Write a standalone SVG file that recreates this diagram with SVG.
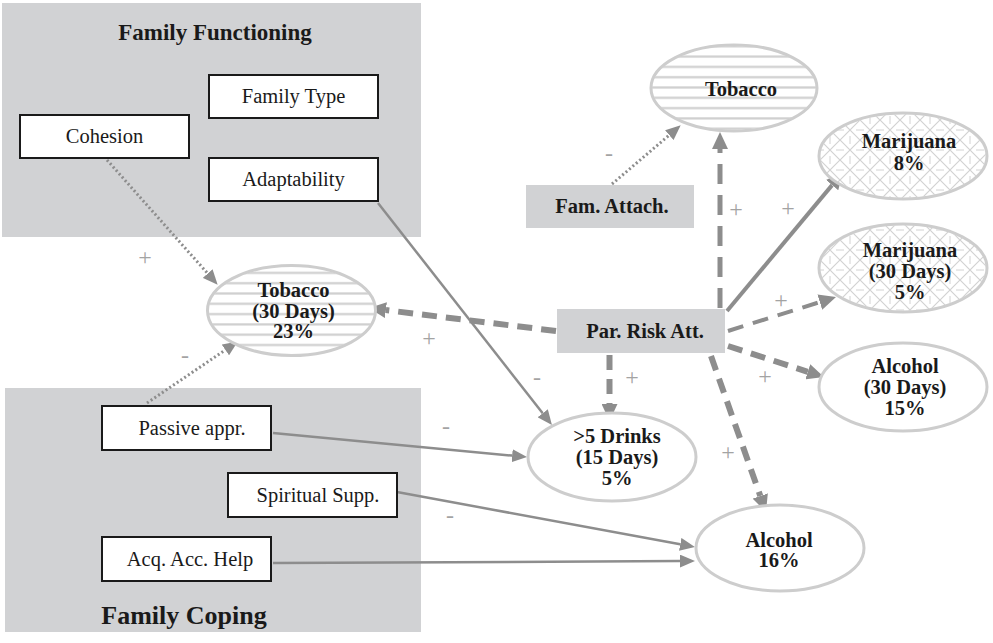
<svg xmlns="http://www.w3.org/2000/svg" width="993" height="643" viewBox="0 0 993 643">
  <style>
    .panel { fill: #d1d2d4; }
    .box { fill: #ffffff; stroke: #1a1a1a; stroke-width: 2; }
    .boxtxt { font-family: "Liberation Serif", "Times New Roman", serif; font-size: 20.5px; fill: #1a1a1a; text-anchor: middle; }
    .title { font-family: "Liberation Serif", "Times New Roman", serif; font-weight: bold; fill: #1a1a1a; text-anchor: middle; }
    .grey { fill: #d1d2d4; }
    .ell { stroke: #cdcdcd; stroke-width: 3; }
    .ntxt { font-family: "Liberation Serif", "Times New Roman", serif; font-size: 20.5px; font-weight: bold; fill: #1a1a1a; text-anchor: middle; }
    .edge { fill: none; stroke: #8d8d8d; }
    .dot { stroke-width: 3; stroke-dasharray: 2 2.5; }
    .solid { stroke-width: 2.5; }
    .dash { stroke-width: 5; stroke-dasharray: 20 11; }
    .dash6 { stroke-width: 6; stroke-dasharray: 15 9; }
    .sign { font-family: "Liberation Serif", "Times New Roman", serif; font-size: 24px; fill: #a3a3a3; text-anchor: middle; dominant-baseline: central; }
  </style>
  <defs>
    <pattern id="stripes" patternUnits="userSpaceOnUse" width="20" height="10.3">
      <rect x="0" y="4" width="20" height="2.2" fill="#cfcfcf"/>
    </pattern>
    <pattern id="mesh" patternUnits="userSpaceOnUse" width="20" height="20">
      <path d="M0,0 L20,20 M20,0 L0,20" stroke="#d2d2d2" stroke-width="1.2" fill="none"/>
      <path d="M10,0 L10,4 M10,16 L10,20 M0,10 L4,10 M16,10 L20,10" stroke="#d2d2d2" stroke-width="1" fill="none"/>
    </pattern>
    <marker id="big" markerUnits="userSpaceOnUse" markerWidth="17" markerHeight="16" viewBox="0 0 17 16" refX="0" refY="8" orient="auto">
      <path d="M0,0 L17,8 L0,16 z" fill="#8d8d8d"/>
    </marker>
    <marker id="small" markerUnits="userSpaceOnUse" markerWidth="15" markerHeight="13" viewBox="0 0 15 13" refX="0" refY="6.5" orient="auto">
      <path d="M0,0 L15,6.5 L0,13 z" fill="#8d8d8d"/>
    </marker>
  </defs>

  <!-- background panels -->
  <g id="family-functioning">
    <rect class="panel" x="2" y="3" width="419" height="234"/>
    <text class="title" x="215" y="40" font-size="23">Family Functioning</text>
  </g>
  <g id="family-coping">
    <rect class="panel" x="5" y="388" width="416" height="244"/>
    <text class="title" x="184" y="624" font-size="26">Family Coping</text>
  </g>

  <!-- connectors -->
  <g id="connectors">
    <line class="edge dot" x1="107" y1="160" x2="207.7" y2="273.5" marker-end="url(#small)"/>
    <line class="edge dot" x1="147" y1="403" x2="225.4" y2="349.9" marker-end="url(#small)"/>
    <line class="edge dot" x1="612" y1="184" x2="669.3" y2="135.1" marker-end="url(#small)"/>
    <line class="edge dash" x1="720" y1="308" x2="720" y2="149" marker-end="url(#big)"/>
    <line class="edge" stroke-width="4" x1="727" y1="311" x2="832.1" y2="185.1" marker-end="url(#big)"/>
    <line class="edge" stroke-width="4" stroke-dasharray="16 10" x1="728" y1="331" x2="819.8" y2="302.1" marker-end="url(#big)"/>
    <line class="edge dash6" x1="728" y1="346" x2="807.8" y2="371.8" marker-end="url(#big)"/>
    <line class="edge dash6" x1="711" y1="356" x2="760.3" y2="496" marker-end="url(#big)"/>
    <line class="edge dash6" x1="609.5" y1="355" x2="609.5" y2="404" marker-end="url(#big)"/>
    <line class="edge dash6" x1="556" y1="331" x2="385.9" y2="310.1" marker-end="url(#big)"/>
    <line class="edge solid" x1="378" y1="203" x2="542.7" y2="413.2" marker-end="url(#small)"/>
    <line class="edge solid" x1="273" y1="433" x2="512.1" y2="455.6" marker-end="url(#small)"/>
    <line class="edge solid" x1="397" y1="492" x2="680.2" y2="544.3" marker-end="url(#small)"/>
    <line class="edge solid" x1="273" y1="563" x2="680" y2="561.1" marker-end="url(#small)"/>

    <text class="sign" x="145" y="257">+</text>
    <text class="sign" x="185" y="355">-</text>
    <text class="sign" x="609" y="153">-</text>
    <text class="sign" x="736" y="209">+</text>
    <text class="sign" x="788" y="208">+</text>
    <text class="sign" x="781" y="300">+</text>
    <text class="sign" x="765" y="376">+</text>
    <text class="sign" x="728" y="452">+</text>
    <text class="sign" x="632" y="377">+</text>
    <text class="sign" x="429" y="338">+</text>
    <text class="sign" x="537" y="377">-</text>
    <text class="sign" x="446" y="426">-</text>
    <text class="sign" x="450" y="515">-</text>
  </g>

  <!-- family functioning measures -->
  <g id="family-type">
    <rect class="box" x="209" y="75" width="169" height="43"/>
    <text class="boxtxt" x="293.5" y="103">Family Type</text>
  </g>
  <g id="cohesion">
    <rect class="box" x="20" y="115" width="169" height="43"/>
    <text class="boxtxt" x="104.5" y="143">Cohesion</text>
  </g>
  <g id="adaptability">
    <rect class="box" x="209" y="158" width="169" height="43"/>
    <text class="boxtxt" x="293.5" y="186">Adaptability</text>
  </g>

  <!-- family coping measures -->
  <g id="passive-appr">
    <rect class="box" x="102" y="406" width="169" height="44"/>
    <text class="boxtxt" x="192" y="435">Passive appr.</text>
  </g>
  <g id="spiritual-supp">
    <rect class="box" x="228" y="473" width="169" height="44"/>
    <text class="boxtxt" x="318" y="502">Spiritual Supp.</text>
  </g>
  <g id="acq-acc-help">
    <rect class="box" x="102" y="537" width="169" height="44"/>
    <text class="boxtxt" x="190" y="566">Acq. Acc. Help</text>
  </g>

  <!-- predictors -->
  <g id="fam-attach">
    <rect class="grey" x="526" y="185" width="168" height="43"/>
    <text class="ntxt" x="612" y="213">Fam. Attach.</text>
  </g>
  <g id="par-risk-att">
    <rect class="grey" x="557" y="309" width="168" height="44"/>
    <text class="ntxt" x="645" y="338">Par. Risk Att.</text>
  </g>

  <!-- outcomes -->
  <g id="tobacco">
    <ellipse class="ell" cx="734" cy="88" rx="83" ry="43" fill="#fff"/>
    <ellipse cx="734" cy="88" rx="82" ry="42" fill="url(#stripes)"/>
    <text class="ntxt" x="741" y="96">Tobacco</text>
  </g>
  <g id="marijuana">
    <ellipse class="ell" cx="903" cy="156" rx="84" ry="43" fill="#fff"/>
    <ellipse cx="903" cy="156" rx="83" ry="42" fill="url(#mesh)"/>
    <text class="ntxt" x="909" y="148">Marijuana</text>
    <text class="ntxt" x="909" y="170">8%</text>
  </g>
  <g id="marijuana-30">
    <ellipse class="ell" cx="903" cy="268" rx="84" ry="44" fill="#fff"/>
    <ellipse cx="903" cy="268" rx="83" ry="43" fill="url(#mesh)"/>
    <text class="ntxt" x="910" y="257">Marijuana</text>
    <text class="ntxt" x="910" y="278">(30 Days)</text>
    <text class="ntxt" x="910" y="299">5%</text>
  </g>
  <g id="tobacco-30">
    <ellipse class="ell" cx="291.5" cy="310.5" rx="84" ry="45" fill="#fff"/>
    <ellipse cx="291.5" cy="310.5" rx="83" ry="44" fill="url(#stripes)"/>
    <text class="ntxt" x="293.5" y="297">Tobacco</text>
    <text class="ntxt" x="293.5" y="318">(30 Days)</text>
    <text class="ntxt" x="293.5" y="338">23%</text>
  </g>
  <g id="drinks-15">
    <ellipse class="ell" cx="612" cy="457" rx="84" ry="44" fill="#fff"/>
    <text class="ntxt" x="617" y="443">&gt;5 Drinks</text>
    <text class="ntxt" x="617" y="464">(15 Days)</text>
    <text class="ntxt" x="617" y="485">5%</text>
  </g>
  <g id="alcohol-30">
    <ellipse class="ell" cx="903" cy="387" rx="84" ry="44" fill="#fff"/>
    <text class="ntxt" x="905" y="373">Alcohol</text>
    <text class="ntxt" x="905" y="394">(30 Days)</text>
    <text class="ntxt" x="905" y="415">15%</text>
  </g>
  <g id="alcohol">
    <ellipse class="ell" cx="780" cy="548" rx="84" ry="43" fill="#fff"/>
    <text class="ntxt" x="779" y="547">Alcohol</text>
    <text class="ntxt" x="779" y="567">16%</text>
  </g>
</svg>
